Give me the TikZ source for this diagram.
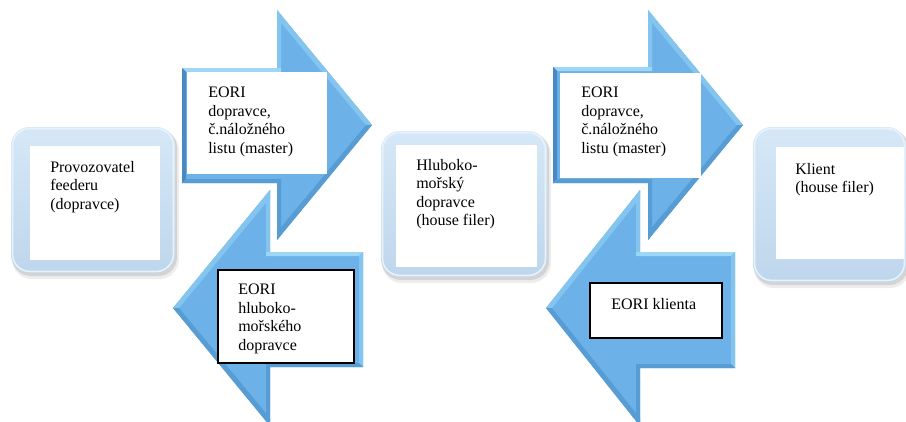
\documentclass[tikz,border=0pt]{standalone}
\usepackage{fontspec}
\setmainfont{Liberation Serif}
\newfontfamily\myserif{Liberation Serif}
\definecolor{arrowmain}{RGB}{108,178,232}
\definecolor{arrowlight}{RGB}{158,214,246}
\definecolor{arrowlightb}{RGB}{132,197,240}
\definecolor{arrowdark}{RGB}{72,136,196}
\definecolor{arrowdarkb}{RGB}{88,156,212}
\definecolor{boxtop}{RGB}{214,232,247}
\definecolor{boxbot}{RGB}{190,214,236}
\definecolor{boxedge}{RGB}{232,242,251}
% right arrow: x0 xb xt t b ht hb yc
\newcommand{\myRArrow}[8]{%
  \fill[arrowmain] (#1,#4) -- (#2,#4) -- (#2,#6) -- (#3,#8) -- (#2,#7) -- (#2,#5) -- (#1,#5) -- cycle;
  \fill[arrowlight] (#1,#4) -- (#2+4,#4) -- (#2+4,#4+4) -- (#1+4,#4+4) -- cycle;
  \fill[arrowlightb] (#2,#4) -- (#2,#6) -- (#2+4,#6+5) -- (#2+4,#4) -- cycle;
  \fill[arrowlightb] (#2,#6) -- (#3,#8) -- (#3-6,#8) -- (#2,#6+8) -- cycle;
  \fill[arrowdark] (#1,#4) -- (#1+4,#4+4) -- (#1+4,#5-4) -- (#1,#5) -- cycle;
  \fill[arrowdarkb] (#1,#5) -- (#1+4,#5-4) -- (#2+4,#5-4) -- (#2+4,#5) -- cycle;
  \fill[arrowdarkb] (#3,#8) -- (#2,#7) -- (#2,#7-8) -- (#3-6,#8) -- cycle;
  \fill[arrowdarkb] (#2,#5) -- (#2,#7) -- (#2+4,#7-5) -- (#2+4,#5) -- cycle;
}
% left arrow: xr xb xt t b ht hb yc
\newcommand{\myLArrow}[8]{%
  \fill[arrowmain] (#1,#4) -- (#2,#4) -- (#2,#6) -- (#3,#8) -- (#2,#7) -- (#2,#5) -- (#1,#5) -- cycle;
  \fill[arrowlight] (#1,#4) -- (#2-4,#4) -- (#2-4,#4+4) -- (#1-4,#4+4) -- cycle;
  \fill[arrowlightb] (#1,#4) -- (#1-4,#4+4) -- (#1-4,#5-4) -- (#1,#5) -- cycle;
  \fill[arrowlightb] (#2,#4) -- (#2,#6) -- (#2-4,#6+5) -- (#2-4,#4) -- cycle;
  \fill[arrowlightb] (#2,#6) -- (#3,#8) -- (#3+6,#8) -- (#2,#6+8) -- cycle;
  \fill[arrowdarkb] (#1,#5) -- (#1-4,#5-4) -- (#2-4,#5-4) -- (#2-4,#5) -- cycle;
  \fill[arrowdarkb] (#3,#8) -- (#2,#7) -- (#2,#7-8) -- (#3+6,#8) -- cycle;
  \fill[arrowdarkb] (#2,#5) -- (#2,#7) -- (#2-4,#7-5) -- (#2-4,#5) -- cycle;
}
% rounded box: x1 y1 x2 y2 ix1 iy1 ix2 iy2
\newcommand{\myRBox}[8]{%
  \fill[black, opacity=0.07, rounded corners=15pt] (#1+1,#2+3) rectangle (#3+4,#4+6);
  \fill[black, opacity=0.10, rounded corners=14pt] (#1+1,#2+2) rectangle (#3+2,#4+3);
  \shade[top color=boxtop, bottom color=boxbot, rounded corners=14pt] (#1,#2) rectangle (#3,#4);
  \draw[boxedge, line width=1.2pt, rounded corners=13pt] (#1+1.5,#2+1.5) rectangle (#3-1.5,#4-1.5);
  \fill[white] (#5,#6) rectangle (#7,#8);
}
\begin{document}
\begin{tikzpicture}[x=0.75pt, y=-0.75pt,
  txt/.style={font=\myserif\fontsize{12}{13.8}\selectfont, align=left, inner sep=0pt, anchor=north west},
  plainbox/.style={fill=white},
  framedbox/.style={fill=white, draw=black, line width=0.8pt}]
\clip (0,0) rectangle (906,421);
\fill[white] (0,0) rectangle (906,421);

% rounded boxes
\myRBox{11}{127}{175}{273}{30}{146}{160}{260}
\myRBox{381}{131}{547}{277}{396}{145}{537}{267}
\myRBox{753}{127}{906}{282}{776}{147}{904}{259}

% arrows
\myRArrow{182}{277}{372}{68}{183}{10}{240}{125}
\myLArrow{363}{270}{173}{252}{367}{190}{426}{308}
\myRArrow{553}{648}{743}{67}{183}{10}{240}{125}
\myLArrow{735}{640}{546}{252}{368}{190}{426}{308}

% boxes inside arrows
\path[plainbox] (187,72) rectangle (327,174);
\path[framedbox] (218,270) rectangle (354,363);
\path[plainbox] (560,73) rectangle (701,178);
\path[framedbox] (590,283) rectangle (722,338);

% texts
\node[txt] (t1) at (50,161) {Provozovatel\\feederu\\(dopravce)};
\node[txt] (t2) at (416,159) {Hluboko-\\mořský\\dopravce\\(house filer)};
\node[txt] (t3) at (795,163) {Klient\\(house filer)};
\node[txt] (t4) at (208,87) {EORI\\dopravce,\\č.náložného\\listu (master)};
\node[txt] (t5) at (238,284) {EORI\\hluboko-\\mořského\\dopravce};
\node[txt] (t6) at (581,87) {EORI\\dopravce,\\č.náložného\\listu (master)};
\node[txt] (t7) at (611,298) {EORI klienta};
\end{tikzpicture}
\end{document}
